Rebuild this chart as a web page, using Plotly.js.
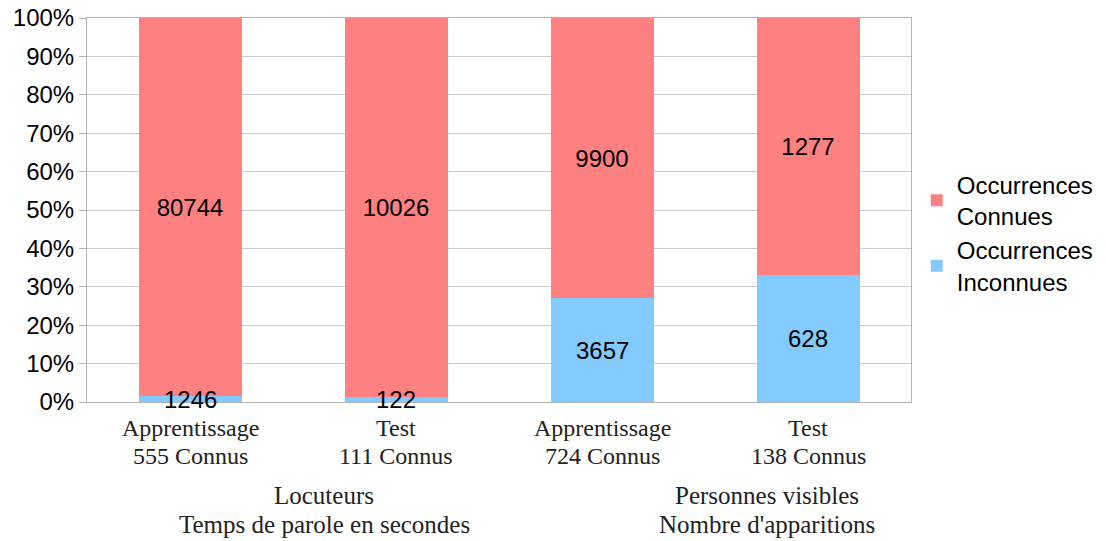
<!DOCTYPE html>
<html>
<head>
<meta charset="utf-8">
<script src="https://cdn.plot.ly/plotly-3.0.1.min.js"></script>
<style>html,body{margin:0;padding:0;background:#fff;}</style>
</head>
<body>
<div id="chart" style="width:1106px;height:541px;"></div>
<script>
const categories = ["Apprentissage (Locuteurs)", "Test (Locuteurs)", "Apprentissage (Personnes)", "Test (Personnes)"];
const catLine1 = ["Apprentissage", "Test", "Apprentissage", "Test"];
const catLine2 = ["555 Connus", "111 Connus", "724 Connus", "138 Connus"];
const inconnues = [1246, 122, 3657, 628];
const connues = [80744, 10026, 9900, 1277];
const seriesNames = ["Occurrences<br>Inconnues", "Occurrences<br>Connues"];
const groupLine1 = ["Locuteurs", "Personnes visibles"];
const groupLine2 = ["Temps de parole en secondes", "Nombre d'apparitions"];

const sans = "Liberation Sans, Arial, sans-serif";
const serif = "Liberation Serif, Times New Roman, serif";
const labelFont = {family: sans, size: 24, color: "#000"};

// midpoints (in percent) of the lower segments, derived from the data
const inconnuesMid = inconnues.map((v, i) => 100 * v / (v + connues[i]) / 2);

const traces = [
  {
    type: "bar", name: seriesNames[0], x: categories, y: inconnues,
    marker: {color: "#83CAFF", line: {width: 0}}, hoverinfo: "none"
  },
  {
    type: "bar", name: seriesNames[1], x: categories, y: connues,
    text: connues.map(String),
    textposition: "inside", insidetextanchor: "middle", constraintext: "none", textangle: 0,
    textfont: labelFont,
    marker: {color: "#FF8080", line: {width: 0}}, hoverinfo: "none"
  }
];

const catFont = {family: serif, size: 24, color: "#222"};
const groupFont = {family: serif, size: 25, color: "#222"};
const annotations = [];
categories.forEach((c, i) => {
  annotations.push({xref: "x", yref: "y", x: c, y: inconnuesMid[i], yanchor: "middle", xanchor: "center",
    yshift: 0, text: String(inconnues[i]), showarrow: false, font: labelFont});
  annotations.push({xref: "x", yref: "paper", x: c, y: 0, yanchor: "middle", xanchor: "center",
    yshift: -26, text: catLine1[i], showarrow: false, font: catFont});
  annotations.push({xref: "x", yref: "paper", x: c, y: 0, yanchor: "middle", xanchor: "center",
    yshift: -54, text: catLine2[i], showarrow: false, font: catFont});
});
const groupX = [(324 - 87) / 824, (767 - 87) / 824];
groupLine1.forEach((t, i) => {
  annotations.push({xref: "paper", yref: "paper", x: groupX[i], y: 0, yanchor: "middle", xanchor: "center",
    yshift: -93, text: t, showarrow: false, font: groupFont});
  annotations.push({xref: "paper", yref: "paper", x: groupX[i], y: 0, yanchor: "middle", xanchor: "center",
    yshift: -122, text: groupLine2[i], showarrow: false, font: groupFont});
});

const layout = {
  width: 1106, height: 541,
  margin: {l: 87, r: 195, t: 18, b: 139, autoexpand: false},
  barmode: "stack",
  barnorm: "percent",
  bargap: 0.5,
  paper_bgcolor: "#fff",
  plot_bgcolor: "#fff",
  showlegend: true,
  legend: {
    x: 1.007, y: 0.44, xanchor: "left", yanchor: "middle",
    traceorder: "reversed",
    font: {family: sans, size: 24, color: "#000"},
    itemsizing: "constant",
    tracegroupgap: 4
  },
  xaxis: {
    type: "category",
    showticklabels: false,
    showline: true, linecolor: "#b3b3b3", linewidth: 1, mirror: true,
    ticks: "", showgrid: false, fixedrange: true
  },
  yaxis: {
    range: [0, 100],
    dtick: 10,
    ticksuffix: "%",
    tickfont: {family: sans, size: 24, color: "#000"},
    showline: true, linecolor: "#b3b3b3", linewidth: 1, mirror: true,
    gridcolor: "#cccccc", gridwidth: 1,
    ticks: "outside", ticklen: 7, tickcolor: "#b3b3b3",
    zeroline: false, fixedrange: true
  },
  annotations: annotations
};

Plotly.newPlot("chart", traces, layout, {displayModeBar: false, staticPlot: true});
</script>
</body>
</html>
